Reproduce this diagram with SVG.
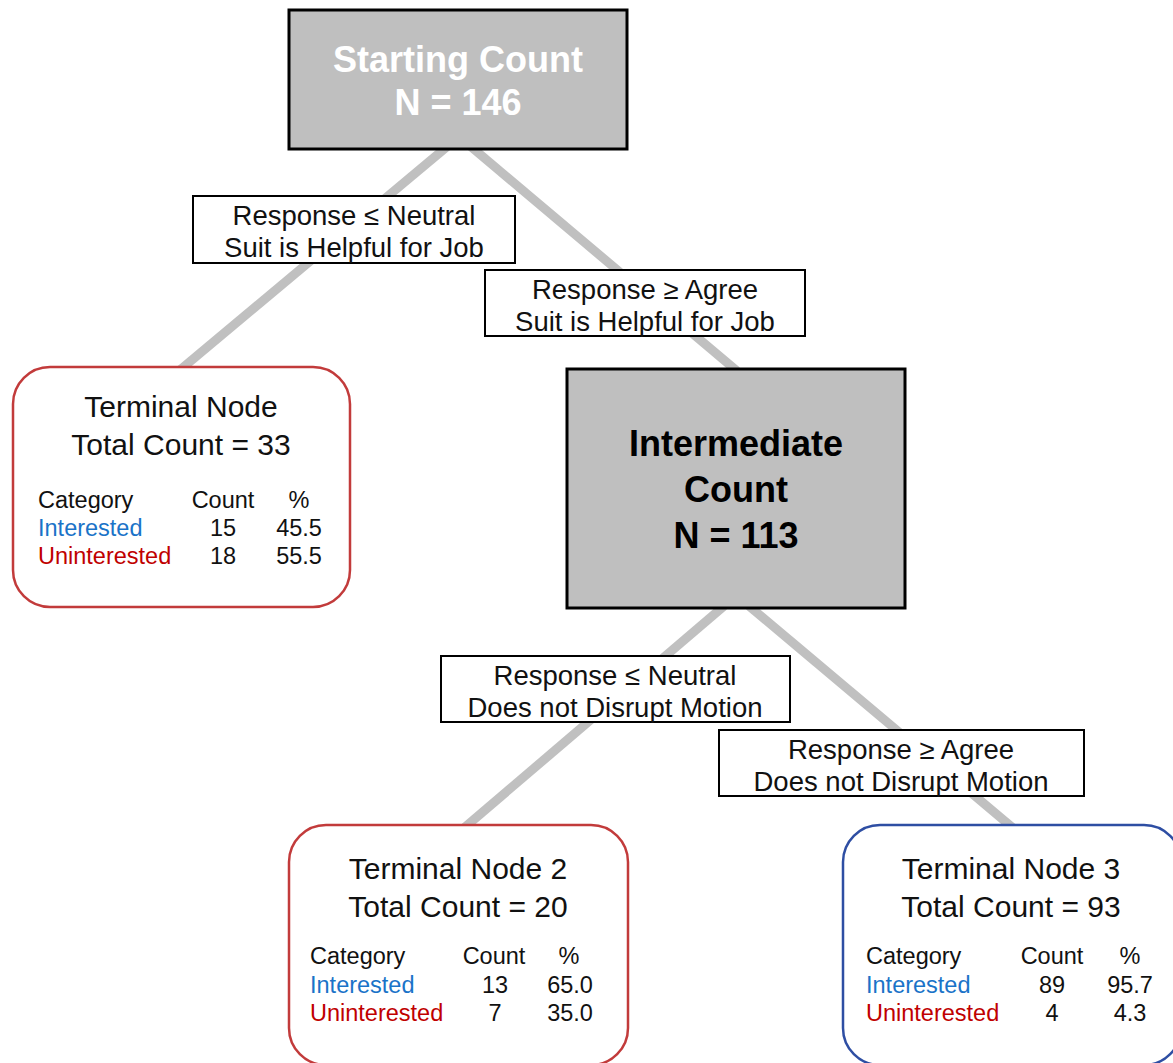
<svg xmlns="http://www.w3.org/2000/svg" width="1173" height="1063" viewBox="0 0 1173 1063">
<style>
.conn{stroke:#c0c0c0;stroke-width:9;fill:none;stroke-linecap:butt}
.gbox{fill:#bfbfbf;stroke:#000;stroke-width:3}
.lbox{fill:#fff;stroke:#000;stroke-width:2}
.tbox{fill:#fff;stroke-width:2.5}
.red{stroke:#c23b3b}
.blue{stroke:#2e4ea3}
text{font-family:"Liberation Sans",Arial,sans-serif}
.big{font-size:36px;font-weight:bold;text-anchor:middle}
.lab{font-size:27.5px;fill:#111;text-anchor:middle}
.ttl{font-size:30px;fill:#111;text-anchor:middle}
.tab{font-size:23.5px;fill:#111}
.mid{text-anchor:middle}
.ci{fill:#1a73c8}
.cu{fill:#c00000}
</style>
<g id="connectors">
<line class="conn" x1="449" y1="145" x2="180" y2="370"/>
<line class="conn" x1="469" y1="145" x2="737" y2="371"/>
<line class="conn" x1="724" y1="606" x2="464" y2="828"/>
<line class="conn" x1="749" y1="606" x2="1013" y2="828"/>
</g>
<g id="start">
<rect class="gbox" x="289" y="10" width="338" height="139"/>
<text class="big" x="458" y="72" fill="#fff">Starting Count</text>
<text class="big" x="458" y="115" fill="#fff">N = 146</text>
</g>
<g id="label1">
<rect class="lbox" x="193" y="196" width="322" height="67"/>
<text class="lab" x="354" y="225">Response ≤ Neutral</text>
<text class="lab" x="354" y="257">Suit is Helpful for Job</text>
</g>
<g id="label2">
<rect class="lbox" x="485" y="270" width="320" height="66"/>
<text class="lab" x="645" y="299">Response ≥ Agree</text>
<text class="lab" x="645" y="331">Suit is Helpful for Job</text>
</g>
<g id="terminal1">
<rect class="tbox red" x="13" y="367" width="337" height="240" rx="37" ry="37"/>
<text class="ttl" x="181" y="417">Terminal Node</text>
<text class="ttl" x="181" y="455">Total Count = 33</text>
<text class="tab" x="38" y="508">Category</text>
<text class="tab mid" x="223" y="508">Count</text>
<text class="tab mid" x="299" y="508">%</text>
<text class="tab ci" x="38" y="536">Interested</text>
<text class="tab mid" x="223" y="536">15</text>
<text class="tab mid" x="299" y="536">45.5</text>
<text class="tab cu" x="38" y="564">Uninterested</text>
<text class="tab mid" x="223" y="564">18</text>
<text class="tab mid" x="299" y="564">55.5</text>
</g>
<g id="intermediate">
<rect class="gbox" x="567" y="369" width="338" height="239"/>
<text class="big" x="736" y="456" fill="#000">Intermediate</text>
<text class="big" x="736" y="502" fill="#000">Count</text>
<text class="big" x="736" y="548" fill="#000">N = 113</text>
</g>
<g id="label3">
<rect class="lbox" x="441" y="656" width="349" height="66"/>
<text class="lab" x="615" y="685">Response ≤ Neutral</text>
<text class="lab" x="615" y="717">Does not Disrupt Motion</text>
</g>
<g id="label4">
<rect class="lbox" x="719" y="730" width="365" height="66"/>
<text class="lab" x="901" y="759">Response ≥ Agree</text>
<text class="lab" x="901" y="791">Does not Disrupt Motion</text>
</g>
<g id="terminal2">
<rect class="tbox red" x="289" y="825" width="339" height="240" rx="37" ry="37"/>
<text class="ttl" x="458" y="879">Terminal Node 2</text>
<text class="ttl" x="458" y="917">Total Count = 20</text>
<text class="tab" x="310" y="964">Category</text>
<text class="tab mid" x="494" y="964">Count</text>
<text class="tab mid" x="569" y="964">%</text>
<text class="tab ci" x="310" y="993">Interested</text>
<text class="tab mid" x="495" y="993">13</text>
<text class="tab mid" x="570" y="993">65.0</text>
<text class="tab cu" x="310" y="1021">Uninterested</text>
<text class="tab mid" x="495" y="1021">7</text>
<text class="tab mid" x="570" y="1021">35.0</text>
</g>
<g id="terminal3">
<rect class="tbox blue" x="843" y="825" width="338" height="240" rx="37" ry="37"/>
<text class="ttl" x="1011" y="879">Terminal Node 3</text>
<text class="ttl" x="1011" y="917">Total Count = 93</text>
<text class="tab" x="866" y="964">Category</text>
<text class="tab mid" x="1052" y="964">Count</text>
<text class="tab mid" x="1130" y="964">%</text>
<text class="tab ci" x="866" y="993">Interested</text>
<text class="tab mid" x="1052" y="993">89</text>
<text class="tab mid" x="1130" y="993">95.7</text>
<text class="tab cu" x="866" y="1021">Uninterested</text>
<text class="tab mid" x="1052" y="1021">4</text>
<text class="tab mid" x="1130" y="1021">4.3</text>
</g>
</svg>
